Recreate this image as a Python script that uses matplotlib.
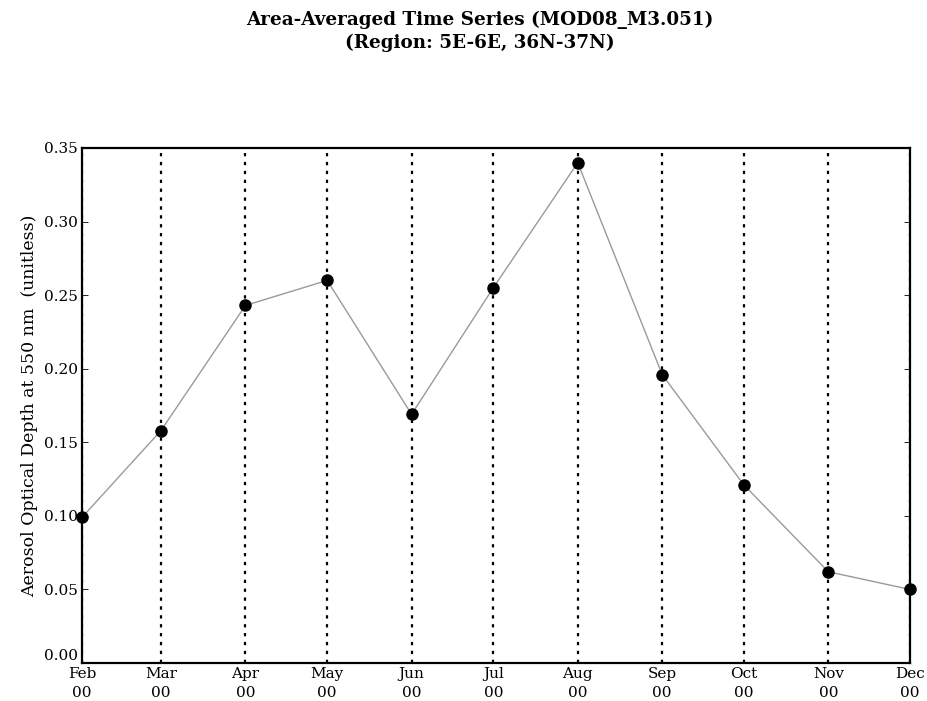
import datetime as dt
import matplotlib
matplotlib.use("Agg")
import matplotlib.pyplot as plt
import matplotlib.dates as mdates

# Monthly area-averaged aerosol optical depth, 2000
months = [dt.date(2000, m, 1) for m in range(2, 13)]
aod = [0.099, 0.158, 0.243, 0.260, 0.169, 0.255, 0.340, 0.196, 0.121, 0.062, 0.050]
yticks = [0.00, 0.05, 0.10, 0.15, 0.20, 0.25, 0.30, 0.35]

title = "Area-Averaged Time Series (MOD08_M3.051)\n(Region: 5E-6E, 36N-37N)"
ylabel = "Aerosol Optical Depth at 550 nm  (unitless)"

plt.rcParams["font.family"] = ["DejaVu Serif"]

fig = plt.figure(figsize=(9.27, 7.01), dpi=100)
ax = fig.add_axes([0.0885, 0.0542, 0.8932, 0.7347])

ax.plot(months, aod, color="#9a9a9a", linewidth=1.0, zorder=2)
ax.plot(months, aod, linestyle="none", marker="o", markersize=8,
        color="black", zorder=3, clip_on=False)

ax.set_xlim(months[0], months[-1])
ax.set_ylim(0, 0.35)
ax.set_yticks(yticks)
ax.set_yticklabels([f"{v:.2f}" for v in yticks], fontsize=11)

# sit the bottom y label above the axis line so it clears the first month label
ax.yaxis.get_major_ticks()[0].label1.set_verticalalignment("bottom")

ax.xaxis.set_major_locator(mdates.MonthLocator())
ax.xaxis.set_major_formatter(mdates.DateFormatter("%b\n%y"))
for lbl in ax.get_xticklabels():
    lbl.set_fontsize(11)
    lbl.set_linespacing(1.45)

ax.grid(axis="x", color="black", linestyle=(0, (1.5, 2.5)), linewidth=1.6)
ax.tick_params(axis="x", length=0, pad=3)
ax.tick_params(axis="y", direction="in", length=4, width=0.6, right=True, pad=3)

for s in ax.spines.values():
    s.set_linewidth(1.6)

ax.set_ylabel(ylabel, fontsize=12.5, labelpad=4)
fig.text(0.518, 0.984, title, ha="center", va="top", fontsize=13.2,
         fontweight="bold", linespacing=1.3)

fig.savefig("out.png", dpi=100, facecolor="white")
